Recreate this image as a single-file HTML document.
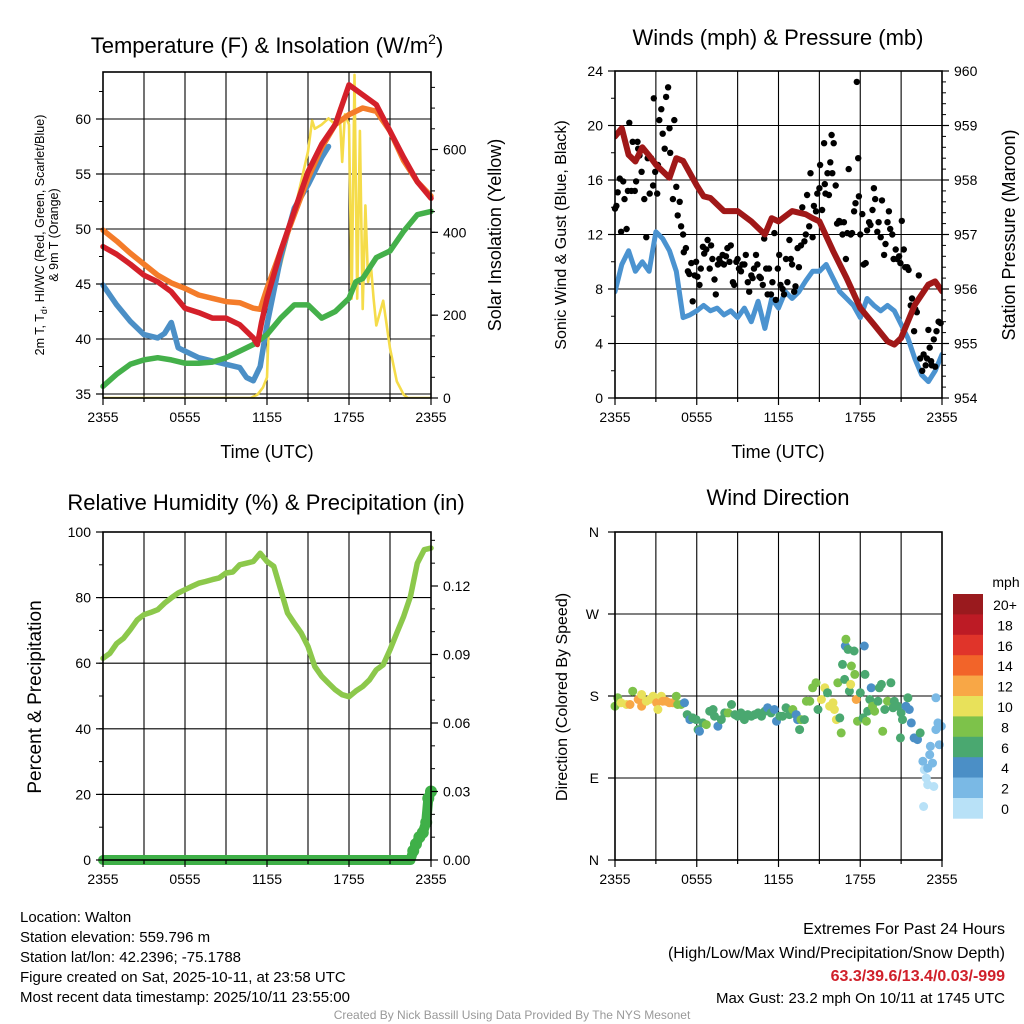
<!DOCTYPE html>
<html><head><meta charset="utf-8"><style>
html,body{margin:0;padding:0;background:#fff;}
svg{display:block;font-family:"Liberation Sans",Arial,sans-serif;}
</style></head><body>
<svg id="fig" width="1024" height="1024" viewBox="0 0 1024 1024" xmlns="http://www.w3.org/2000/svg">
<defs>
<clipPath id="c1"><rect x="103" y="72" width="328" height="326"/></clipPath>
<clipPath id="c2"><rect x="615" y="71" width="327" height="327"/></clipPath>
<clipPath id="c3"><rect x="103" y="532" width="328" height="336"/></clipPath>
<clipPath id="c4"><rect x="615" y="532" width="327" height="328"/></clipPath>
</defs>
<rect width="1024" height="1024" fill="#fff"/>
<g id="layer"></g>
<text x="267" y="53" font-size="22" text-anchor="middle">Temperature (F) &amp; Insolation (W/m<tspan font-size="14" dy="-9">2</tspan><tspan dy="9">)</tspan></text>
<text x="778" y="45" font-size="22" text-anchor="middle">Winds (mph) &amp; Pressure (mb)</text>
<text x="266" y="510" font-size="22" text-anchor="middle">Relative Humidity (%) &amp; Precipitation (in)</text>
<text x="778" y="505" font-size="22" text-anchor="middle">Wind Direction</text>

<text x="267" y="458" font-size="18" text-anchor="middle">Time (UTC)</text>
<text x="778" y="458" font-size="18" text-anchor="middle">Time (UTC)</text>

<text transform="translate(44,235) rotate(-90)" font-size="12.5" text-anchor="middle">2m T, T<tspan font-size="9" dy="3">d</tspan><tspan dy="-3">, HI/WC (Red, Green, Scarlet/Blue)</tspan></text>
<text transform="translate(58,235) rotate(-90)" font-size="12.5" text-anchor="middle">&amp; 9m T (Orange)</text>
<text transform="translate(501,235) rotate(-90)" font-size="18" text-anchor="middle">Solar Insolation (Yellow)</text>
<text transform="translate(566,235) rotate(-90)" font-size="16" text-anchor="middle">Sonic Wind &amp; Gust (Blue, Black)</text>
<text transform="translate(1015,235) rotate(-90)" font-size="18" text-anchor="middle">Station Pressure (Maroon)</text>
<text transform="translate(41,697) rotate(-90)" font-size="19" text-anchor="middle">Percent &amp; Precipitation</text>
<text transform="translate(567,697) rotate(-90)" font-size="16" text-anchor="middle">Direction (Colored By Speed)</text>

<g font-size="15">
<text x="20" y="922">Location: Walton</text>
<text x="20" y="942">Station elevation: 559.796 m</text>
<text x="20" y="962">Station lat/lon: 42.2396; -75.1788</text>
<text x="20" y="982">Figure created on Sat, 2025-10-11, at 23:58 UTC</text>
<text x="20" y="1002">Most recent data timestamp: 2025/10/11 23:55:00</text>
</g>
<g text-anchor="end">
<text x="1005" y="934" font-size="16">Extremes For Past 24 Hours</text>
<text x="1005" y="958" font-size="16">(High/Low/Max Wind/Precipitation/Snow Depth)</text>
<text x="1005" y="981" font-size="16" font-weight="bold" fill="#d0202a">63.3/39.6/13.4/0.03/-999</text>
<text x="1005" y="1003" font-size="15">Max Gust: 23.2 mph On 10/11 at 1745 UTC</text>
</g>
<text x="512" y="1019" font-size="12" fill="#999" text-anchor="middle">Created By Nick Bassill Using Data Provided By The NYS Mesonet</text>
</svg>
<script>
// ---------- DATA ----------
const timeTickLabels = ["2355","0555","1155","1755","2355"];
const tempTickLabels = [35,40,45,50,55,60];
const solarTickLabels = [0,200,400,600];
const windTickLabels = [0,4,8,12,16,20,24];
const pressTickLabels = [954,955,956,957,958,959,960];
const rhTickLabels = [0,20,40,60,80,100];
const precipTickLabels = [0,0.03,0.06,0.09,0.12];
const dirTickLabels = ["N","E","S","W","N"];
const speedBinLabels = ["0","2","4","6","8","10","12","14","16","18","20+"];
const speedBinColors = ["#b8e1f7","#7ab9e5","#4b8fc6","#4aa870","#7dc24a","#e8e15a","#f8a746","#f26429","#e0342a","#bd1b25","#9a1a1e"];

const tempRedHours = [0,1,2,3,4,5,6,7,8,9,10,10.5,11,11.3,11.6,12,13,14,15,16,17,18,19,20,21,22,23,24];
const tempRed = [48.4,47.7,46.8,45.8,45.2,44.3,42.8,42.4,41.9,41.9,41.3,40.7,40.1,39.5,41.5,43.7,48.0,51.6,55.2,57.7,59.5,63.1,62.2,61.3,58.9,56.5,54.3,52.8];
const tempOrangeHours = [0,1,2,3,4,5,6,7,8,9,10,11,11.5,12,13,14,15,16,17,18,19,20,21,22,23,24];
const tempOrange = [49.9,48.9,47.8,46.8,45.8,45.1,44.6,44.0,43.7,43.4,43.3,42.8,42.7,44.6,48.0,51.3,54.6,57.4,59.5,60.4,61.0,60.7,58.9,56.2,54.3,53.0];
const tempBlueHours = [0,1,2,3,4,4.5,5,5.5,6,7,8,9,10,10.5,11,11.5,12,13,14,15,16,16.5];
const tempBlue = [44.9,43.1,41.6,40.4,40.1,40.5,41.5,39.2,38.9,38.3,38.0,37.7,37.4,36.5,36.2,37.5,41.3,47.4,51.9,54.0,56.5,57.5];
const tempGreenHours = [0,1,2,3,4,5,6,7,8,9,10,11,12,13,14,15,16,17,18,18.5,19,20,21,22,23,24];
const tempGreen = [35.7,36.8,37.7,38.1,38.3,38.1,37.8,37.8,37.9,38.3,38.9,39.5,40.4,41.9,43.1,43.1,41.9,42.5,43.7,45.2,45.5,47.4,48.0,49.8,51.3,51.6];
const solarHours = [0,10.8,11.3,11.7,12.0,12.2,12.5,13.0,14.0,15.0,15.3,15.5,16.0,16.5,17.0,17.3,17.5,17.7,18.0,18.2,18.4,18.6,18.8,19.0,19.2,19.4,19.6,19.8,20.0,20.5,21.0,21.5,22.0,22.3,24];
const solar = [0,0,8,25,50,240,280,320,450,595,670,650,660,675,660,700,570,685,660,240,780,240,645,215,465,280,320,240,175,235,120,40,8,0,0];

const sonicWind = [7.8,9.8,10.8,9.3,10.0,9.3,12.2,11.7,10.8,9.3,5.9,6.1,6.4,6.8,6.4,6.6,6.1,6.4,5.9,6.6,5.6,7.1,5.1,7.3,6.6,7.8,7.3,7.8,8.6,9.3,9.3,9.8,8.8,7.8,7.3,6.8,5.9,7.3,6.8,6.4,6.8,6.4,5.4,4.4,2.9,1.7,1.2,2.0,3.2];
const pressHours = [0,0.5,1,1.5,2,2.5,3,4,4.5,5,6,6.5,7,8,9,10,11,11.5,12,13,14,14.5,15,16,17,18,19,20,20.5,21,22,23,23.5,24];
const pressure = [958.8,958.95,958.46,958.34,958.6,958.45,958.28,958.04,958.4,958.35,957.9,957.7,957.67,957.43,957.43,957.24,957.0,957.3,957.24,957.43,957.37,957.3,957.24,956.7,956.2,955.65,955.35,955.04,954.98,955.1,955.71,956.08,956.14,955.96];
const gustHours = [0,0.1,0.2,0.35,0.6,0.7,0.45,0.85,0.95,1.05,1.2,1.3,1.45,1.55,1.65,1.7,1.8,1.95,2.15,2.3,2.4,2.55,2.65,2.8,2.85,2.95,3.1,3.15,3.25,3.4,3.5,3.65,3.75,3.9,4.0,4.05,4.35,4.25,4.5,4.6,4.75,4.85,5.0,5.05,5.2,5.35,5.45,5.6,5.7,5.85,5.95,6.05,6.2,6.3,6.45,6.55,6.7,6.8,6.95,7.05,7.15,7.3,7.4,7.55,7.65,7.8,7.9,8.0,8.15,8.25,8.4,8.5,8.65,8.75,8.9,9.0,9.1,9.25,9.35,9.5,9.6,9.75,9.85,10.0,10.1,10.2,10.35,10.45,10.6,10.7,10.85,10.95,11.1,11.2,11.3,11.45,11.55,11.7,11.8,11.95,12.05,12.15,12.3,12.4,12.55,12.65,12.8,12.9,13.0,13.15,13.25,13.4,13.5,13.65,13.75,13.9,14.0,14.1,14.25,14.35,14.5,14.6,14.75,14.85,15.0,15.05,15.2,15.35,15.4,15.45,15.6,15.7,15.8,15.9,15.95,16.05,16.2,16.3,16.45,16.55,16.7,16.8,16.95,17.05,17.15,17.3,17.4,17.55,17.65,17.75,17.85,17.9,18.0,18.15,18.25,18.4,18.5,18.65,18.75,18.9,19.0,19.1,19.25,19.35,19.5,19.6,19.75,19.85,20.0,20.1,20.2,20.35,20.45,20.6,20.7,20.85,20.95,21.05,21.2,21.3,21.45,21.55,21.7,21.8,21.95,22.05,22.15,22.3,22.4,22.55,22.65,22.8,22.9,23.0,23.1,23.2,23.25,23.4,23.5,23.6,23.75,23.9];
const gustMph = [13.9,14.1,15.1,16.1,15.9,14.6,12.2,12.4,15.2,20.2,15.2,18.8,15.2,15.9,18.8,18.3,17.8,16.6,14.6,11.8,17.6,15.0,17.6,15.6,22.0,16.6,15.0,17.1,20.4,21.2,19.4,18.3,22.1,22.8,19.8,18.0,20.4,14.6,15.5,13.4,14.4,12.6,12.0,10.7,11.0,9.3,9.1,9.9,7.1,9.0,10.0,8.9,8.3,9.5,11.1,10.6,10.9,11.6,9.5,11.2,10.2,8.7,7.6,9.8,10.2,9.9,10.5,9.8,10.4,11.0,10.0,11.2,8.5,8.3,10.0,10.2,9.5,9.3,9.8,9.8,10.5,8.5,7.8,9.0,8.8,9.5,10.5,9.8,8.9,8.8,8.3,11.7,9.5,7.6,9.5,7.6,8.5,12.1,7.2,9.5,10.5,8.3,8.0,7.6,10.2,8.5,11.6,10.2,9.8,7.8,8.2,11.0,9.6,11.2,14.0,11.5,12.0,14.9,12.6,16.5,11.8,14.1,13.7,15.0,15.4,17.1,13.8,18.7,15.7,15.0,16.5,14.9,17.3,19.3,16.5,18.7,15.6,12.8,13.0,12.9,12.0,12.9,10.2,12.1,16.8,12.0,12.1,13.7,14.3,23.2,17.6,14.8,12.0,13.5,9.8,9.9,12.3,12.9,12.7,13.8,15.4,14.6,12.2,12.9,11.8,14.5,10.5,11.3,12.9,13.7,12.4,12.0,10.2,10.9,10.2,10.4,9.9,13.0,10.9,9.6,9.6,9.4,6.8,7.3,4.9,6.5,6.3,9.0,2.9,2.0,3.2,2.4,2.9,5.0,3.7,2.7,2.4,4.3,2.3,4.9,5.6,5.5];

const rhValues = [61.5,63,66,67.6,70.2,73.2,74.8,75.5,76.3,78.3,79.9,81.4,82.4,83.4,84.4,84.9,85.5,86,87.5,87.8,90,90.5,91,93.5,91,89.5,82.4,75.3,72.2,69.2,65.1,59,56,53.9,51.9,50.4,49.8,51.5,52.9,54.9,58,59.5,64.1,69.2,74.3,80.4,90.5,94.6,95.1];
const precipHours = [0,22.5,22.7,22.9,23.15,23.4,23.65,23.8,24];
const precip = [0,0,0.004,0.007,0.010,0.012,0.0165,0.027,0.03];

const dirHours = [0,0.2,0.45,0.85,1.1,1.3,1.7,1.95,1.95,2.3,2.55,2.8,3.05,3.15,3.4,3.5,3.75,4.0,4.25,4.5,4.6,4.85,5.1,5.3,5.5,5.7,5.95,6.1,6.2,6.45,6.7,6.95,7.2,7.3,7.55,7.8,8.05,8.3,8.55,8.8,9.0,9.25,9.5,9.75,10.0,10.25,10.5,10.75,11.0,11.2,11.45,11.7,11.85,12.1,12.3,12.55,12.8,13.05,13.3,13.4,13.55,13.65,13.9,14.05,14.3,14.5,14.75,14.9,15.15,15.4,15.6,15.75,16.0,16.1,16.25,16.35,16.5,16.6,16.7,16.85,16.9,16.95,17.1,17.2,17.3,17.35,17.55,17.6,17.7,17.8,18.0,18.2,18.3,18.35,18.45,18.55,18.7,18.8,18.9,19.05,19.3,19.4,19.55,19.65,19.8,20.0,20.25,20.4,20.5,20.75,20.95,21.0,21.1,21.35,21.5,21.6,21.75,21.95,22.2,22.4,22.6,22.65,22.7,22.85,22.95,22.95,23.1,23.15,23.3,23.4,23.55,23.55,23.7,23.8,23.95];
const dirDeg = [168.8,178,172.5,170.7,170.7,185.3,176.2,168.8,181.7,174.3,176.2,179.8,172.5,165.2,179.8,174.3,174.3,172.5,172.5,179.8,170.7,170.7,172.5,159.6,154.1,156,154.1,143.1,141.3,150.5,148.6,163.3,165.2,157.8,146.8,154.1,161.5,161.5,170.7,159.6,157.8,161.5,154.1,159.6,157.8,159.6,161.5,157.8,163.3,167,161.5,165.2,152.3,157.8,157.8,167,159.6,165.2,159.6,154.1,143.1,154.1,154.1,174.3,174.3,189,194.5,165.2,176.2,189,183.5,168.8,172.5,165.2,154.1,194.5,156,139.5,214.7,198.2,234.9,242.2,231.2,185.3,192.7,212.9,229.4,203.7,176.2,152.3,183.5,156,234.9,203.7,152.3,163.3,176.2,189,168.8,163.3,174.3,189,192.7,141.3,165.2,174.3,194.5,167,174.3,168.8,134,161.5,154.1,168.8,178,165.2,150.5,134,132.1,139.5,108.3,58.7,99.1,89.9,82.6,100.9,115.6,124.8,106.4,80.7,178,143.1,150.5,126.6,146.8];
const dirSpeed = [8.5,8.5,10.5,10.5,12.5,8.5,12.5,12.5,10.5,10.5,10.5,10.5,12.5,10.5,10.5,12.5,12.5,12.5,12.5,8.5,8.5,8.5,4.5,6.5,4.5,6.5,6.5,6.5,4.5,6.5,8.5,6.5,6.5,6.5,4.5,6.5,6.5,8.5,6.5,6.5,6.5,6.5,6.5,6.5,6.5,6.5,6.5,6.5,6.5,4.5,6.5,4.5,4.5,6.5,6.5,6.5,6.5,8.5,4.5,4.5,6.5,8.5,6.5,8.5,8.5,8.5,8.5,6.5,10.5,10.5,6.5,10.5,10.5,10.5,10.5,8.5,6.5,8.5,6.5,6.5,4.5,8.5,6.5,6.5,10.5,8.5,6.5,8.5,12.5,8.5,6.5,6.5,4.5,6.5,8.5,6.5,6.5,4.5,8.5,8.5,6.5,6.5,6.5,8.5,6.5,8.5,6.5,6.5,6.5,6.5,6.5,6.5,6.5,4.5,6.5,4.5,4.5,4.5,4.5,6.5,2.5,1,1,1,1,2.5,2.5,2.5,2.5,1,2.5,2.5,2.5,2.5,2.5];

// ---------- HELPERS ----------
const NS = "http://www.w3.org/2000/svg";
const layer = document.getElementById("layer");
function mk(tag, attrs, parent) {
  const e = document.createElementNS(NS, tag);
  for (const k in attrs) e.setAttribute(k, attrs[k]);
  (parent || layer).appendChild(e);
  return e;
}
function scale(d0, d1, r0, r1) { return v => r0 + (v - d0) * (r1 - r0) / (d1 - d0); }

const P1 = {x0:103, x1:431, y0:72, y1:398};
const P2 = {x0:615, x1:942, y0:71, y1:398};
const P3 = {x0:103, x1:431, y0:532, y1:860};
const P4 = {x0:615, x1:942, y0:532, y1:860};

const xT = scale(0, 24, P1.x0, P1.x1);
const xW = scale(0, 24, P2.x0, P2.x1);
const yT = scale(35, 60, 394, 119);
const ySol = scale(0, 600, 398, 149.5);
const yW = scale(0, 24, 398, 71);
const yP = scale(954, 960, 398, 71);
const yR = scale(0, 100, 860, 532);
const yPr = scale(0, 0.03, 860, 791.5);
const yD = scale(0, 360, 860, 532);

function grid(P, xs, hTicks, yf) {
  const g = mk("g", {});
  
  
  for (let h = 3; h < 24; h += 3) {
    const x = xs(h);
    const l = mk("line", {x1:x, x2:x, y1:P.y0, y2:P.y1, stroke:"#000", "stroke-width":1.1}, g);
    
    
  }
  hTicks.forEach(v => {
    const y = yf(v);
    if (y > P.y0 + 1 && y < P.y1 - 1) {
      const l = mk("line", {x1:P.x0, x2:P.x1, y1:y, y2:y, stroke:"#000", "stroke-width":1.1}, g);
      
      
    }
  });
}
function frame(P, name) {
  const r = mk("rect", {x:P.x0, y:P.y0, width:P.x1-P.x0, height:P.y1-P.y0, fill:"none", stroke:"#000", "stroke-width":1.6});
  
  
}
function xAxis(P, xs) {
  const g = mk("g", {"font-size":14, "text-anchor":"middle"});
  
  
  for (let h = 0; h <= 24; h += 3) {
    const major = h % 6 === 0;
    mk("line", {x1:xs(h), x2:xs(h), y1:P.y1, y2:P.y1 + (major ? 7 : 4), stroke:"#000", "stroke-width":1.2}, g);
  }
  timeTickLabels.forEach((lab, i) => {
    const t = mk("text", {x:xs(i*6), y:P.y1 + 24}, g);
    
    
    t.textContent = lab;
  });
}
function yAxis(P, yf, labels, minorStep, side, fmt, nameBase) {
  const g = mk("g", {"font-size":14, "text-anchor": side === "left" ? "end" : "start"});
  
  
  const xa = side === "left" ? P.x0 : P.x1;
  const dir = side === "left" ? -1 : 1;
  const lo = labels[0];
  if (minorStep) {
    for (let k = 0; k < 500; k++) {
      const y = yf(lo + k * minorStep);
      if (y < P.y0 - 0.5) break;
      mk("line", {x1:xa, x2:xa + dir*4, y1:y, y2:y, stroke:"#000", "stroke-width":1}, g);
    }
  }
  labels.forEach(v => {
    const y = yf(v);
    mk("line", {x1:xa, x2:xa + dir*7, y1:y, y2:y, stroke:"#000", "stroke-width":1.2}, g);
    const t = mk("text", {x:xa + dir*12, y:y + 5}, g);
    
    
    t.textContent = fmt ? fmt(v) : v;
  });
}
function path(xsArr, ysArr, xf, yf, attrs, name) {
  const d = xsArr.map((h, i) => (i ? "L" : "M") + xf(h).toFixed(1) + "," + yf(ysArr[i]).toFixed(1)).join("");
  const p = mk("path", Object.assign({d:d, fill:"none", "stroke-linejoin":"round", "stroke-linecap":"round"}, attrs));
  
  
  return p;
}

// ---------- PANEL 1 ----------
grid(P1, xT, tempTickLabels, yT);
path(solarHours, solar, xT, ySol, {stroke:"#f5dc4a", "stroke-width":2.6, "clip-path":"url(#c1)"}, "solar-insolation-line");
path(tempBlueHours, tempBlue, xT, yT, {stroke:"#4b8fc6", "stroke-width":5.5}, "dewpoint-line");
path(tempGreenHours, tempGreen, xT, yT, {stroke:"#44b04a", "stroke-width":5.5}, "wetbulb-line");
path(tempOrangeHours, tempOrange, xT, yT, {stroke:"#f47c2a", "stroke-width":5.5}, "temp-9m-line");
path(tempRedHours, tempRed, xT, yT, {stroke:"#d4202a", "stroke-width":5.5}, "temp-2m-line");
frame(P1, "temp-plot-frame");
xAxis(P1, xT);
yAxis(P1, yT, tempTickLabels, 2.5, "left", null, "temp-y-axis");
yAxis(P1, ySol, solarTickLabels, 50, "right", null, "solar-y-axis");

// ---------- PANEL 2 ----------
grid(P2, xW, windTickLabels, yW);
const sonicHours = sonicWind.map((v, i) => i * 0.5);
path(sonicHours, sonicWind, xW, yW, {stroke:"#4b93d0", "stroke-width":5, "clip-path":"url(#c2)"}, "sonic-wind-line");
gustHours.forEach((h, i) => {
  const c = mk("circle", {cx:xW(h).toFixed(1), cy:yW(gustMph[i]).toFixed(1), r:3.2, fill:"#000"});
  
  
});
path(pressHours, pressure, xW, yP, {stroke:"#a01818", "stroke-width":6, "clip-path":"url(#c2)"}, "pressure-line");
frame(P2, "wind-plot-frame");
xAxis(P2, xW);
yAxis(P2, yW, windTickLabels, 2, "left", null, "wind-y-axis");
yAxis(P2, yP, pressTickLabels, 0.2, "right", null, "pressure-y-axis");

// ---------- PANEL 3 ----------
grid(P3, xT, rhTickLabels, yR);
const rhHours = rhValues.map((v, i) => i * 0.5);
path(rhHours, rhValues, xT, yR, {stroke:"#8cc84b", "stroke-width":5.5}, "relative-humidity-line");
path(precipHours, precip, xT, yPr, {stroke:"#3fb048", "stroke-width":10}, "precipitation-line");
precipHours.forEach((h, i) => {
  if (precip[i] > 0) {
    const c = mk("circle", {cx:xT(h), cy:yPr(precip[i]), r:6, fill:"#3fb048"});
    
    
  }
});
frame(P3, "rh-plot-frame");
xAxis(P3, xT);
yAxis(P3, yR, rhTickLabels, 10, "left", null, "rh-y-axis");
yAxis(P3, yPr, precipTickLabels, 0.01, "right", v => v.toFixed(2), "precip-y-axis");

// ---------- PANEL 4 ----------
const dirTickDeg = dirTickLabels.map((l, i) => i * 90);
grid(P4, xW, dirTickDeg, yD);
function speedColor(s) { return speedBinColors[Math.min(10, Math.max(0, Math.floor(s / 2)))]; }
dirHours.forEach((h, i) => {
  const c = mk("circle", {cx:xW(h).toFixed(1), cy:yD(dirDeg[i]).toFixed(1), r:4.5, fill:speedColor(dirSpeed[i])});
  
  
});
frame(P4, "direction-plot-frame");
xAxis(P4, xW);
(function(){
  const g = mk("g", {"font-size":14, "text-anchor":"end"});
  
  
  dirTickLabels.forEach((lab, i) => {
    const y = yD(dirTickDeg[i]);
    mk("line", {x1:P4.x0, x2:P4.x0 - 7, y1:y, y2:y, stroke:"#000", "stroke-width":1.2}, g);
    const t = mk("text", {x:P4.x0 - 16, y:y + 5}, g);
    
    
    t.textContent = lab;
  });
})();
(function(){
  const g = mk("g", {"font-size":14});
  
  
  const top = 594, bh = 20.4, cx = 953, cw = 30;
  const n = speedBinColors.length;
  for (let i = 0; i < n; i++) {
    const idx = n - 1 - i;
    const r = mk("rect", {x:cx, y:top + i*bh, width:cw, height:bh + 0.3, fill:speedBinColors[idx]}, g);
    
    
    const t = mk("text", {x:1005, y:top + i*bh + 16, "text-anchor":"middle"}, g);
    
    
    t.textContent = speedBinLabels[idx];
  }
  const u = mk("text", {x:1006, y:587, "text-anchor":"middle"}, g);
  
  
  u.textContent = "mph";
})();
</script>
</body></html>
